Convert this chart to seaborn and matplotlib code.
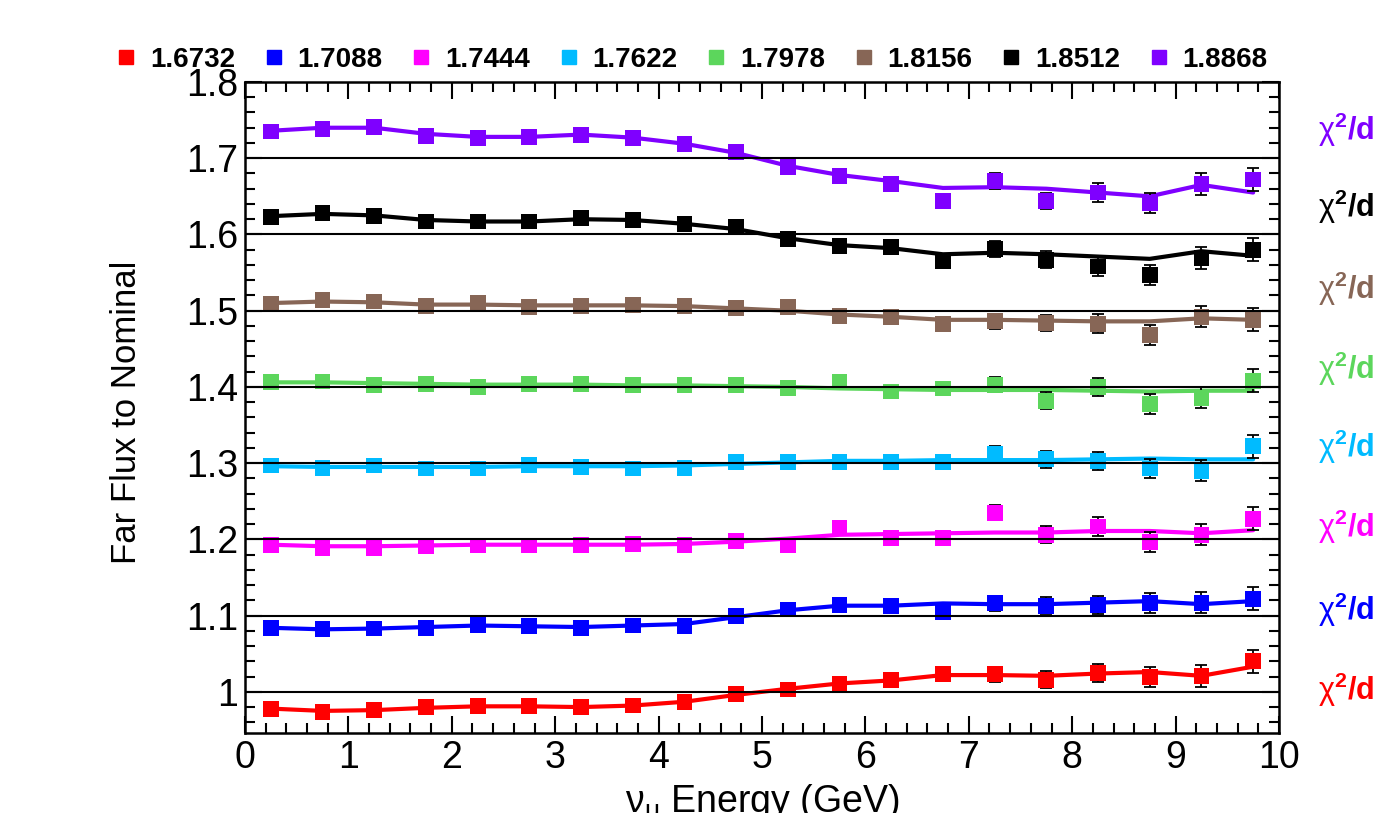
import numpy as np
import pandas as pd
import matplotlib
matplotlib.use('Agg')
import matplotlib.pyplot as plt
from matplotlib.lines import Line2D
from matplotlib.ticker import MultipleLocator
import seaborn as sns

# bin centres (GeV)
energy = [0.25, 0.75, 1.25, 1.75, 2.25, 2.75, 3.25, 3.75, 4.25, 4.75,
          5.25, 5.75, 6.25, 6.75, 7.25, 7.75, 8.25, 8.75, 9.25, 9.75]

labels = ['1.6732', '1.7088', '1.7444', '1.7622', '1.7978', '1.8156', '1.8512', '1.8868']
colors = ['#ff0000', '#0000ff', '#ff00ff', '#00bbff', '#5cd65c', '#876656', '#000000', '#7f00ff']

# ratio points (each series offset by 0.1 on the plot)
pts_16732 = [0.978, 0.974, 0.976, 0.980, 0.981, 0.981, 0.980, 0.982, 0.987, 0.997,
             1.003, 1.011, 1.015, 1.023, 1.023, 1.016, 1.025, 1.019, 1.021, 1.040]
pts_17088 = [1.084, 1.082, 1.083, 1.084, 1.088, 1.086, 1.084, 1.087, 1.086, 1.099,
             1.108, 1.114, 1.113, 1.105, 1.116, 1.113, 1.114, 1.116, 1.117, 1.122]
pts_17444 = [1.193, 1.189, 1.189, 1.191, 1.192, 1.192, 1.193, 1.194, 1.193, 1.198,
             1.193, 1.215, 1.202, 1.202, 1.235, 1.206, 1.217, 1.197, 1.206, 1.227]
pts_17622 = [1.297, 1.294, 1.297, 1.293, 1.293, 1.298, 1.295, 1.293, 1.294, 1.302,
             1.302, 1.301, 1.302, 1.302, 1.312, 1.305, 1.303, 1.293, 1.290, 1.322]
pts_17978 = [1.406, 1.407, 1.403, 1.404, 1.400, 1.404, 1.404, 1.402, 1.402, 1.402,
             1.399, 1.407, 1.394, 1.398, 1.403, 1.382, 1.400, 1.378, 1.386, 1.408]
pts_18156 = [1.509, 1.514, 1.512, 1.506, 1.510, 1.505, 1.506, 1.508, 1.506, 1.503,
             1.505, 1.493, 1.492, 1.483, 1.486, 1.484, 1.483, 1.468, 1.492, 1.488]
pts_18512 = [1.623, 1.628, 1.624, 1.617, 1.617, 1.617, 1.622, 1.619, 1.614, 1.610,
             1.594, 1.585, 1.584, 1.565, 1.581, 1.567, 1.558, 1.547, 1.569, 1.580]
pts_18868 = [1.735, 1.738, 1.741, 1.729, 1.727, 1.728, 1.731, 1.727, 1.719, 1.708,
             1.689, 1.677, 1.666, 1.644, 1.670, 1.644, 1.655, 1.641, 1.666, 1.672]

# fitted curves
fit_16732 = [0.978, 0.975, 0.976, 0.979, 0.981, 0.981, 0.980, 0.982, 0.987, 0.996,
             1.004, 1.011, 1.015, 1.022, 1.022, 1.021, 1.024, 1.026, 1.021, 1.033]
fit_17088 = [1.084, 1.082, 1.083, 1.085, 1.087, 1.086, 1.085, 1.087, 1.089, 1.098,
             1.107, 1.113, 1.113, 1.116, 1.115, 1.115, 1.117, 1.119, 1.115, 1.119]
fit_17444 = [1.193, 1.191, 1.191, 1.192, 1.193, 1.193, 1.193, 1.193, 1.194, 1.197,
             1.201, 1.206, 1.207, 1.208, 1.209, 1.209, 1.211, 1.211, 1.208, 1.212]
fit_17622 = [1.296, 1.295, 1.295, 1.295, 1.295, 1.296, 1.296, 1.296, 1.297, 1.299,
             1.301, 1.303, 1.303, 1.304, 1.304, 1.304, 1.305, 1.306, 1.305, 1.305]
fit_17978 = [1.406, 1.406, 1.405, 1.404, 1.403, 1.403, 1.403, 1.402, 1.402, 1.401,
             1.400, 1.398, 1.397, 1.396, 1.396, 1.396, 1.395, 1.394, 1.395, 1.395]
fit_18156 = [1.510, 1.512, 1.511, 1.508, 1.508, 1.507, 1.507, 1.507, 1.506, 1.503,
             1.500, 1.495, 1.492, 1.488, 1.488, 1.487, 1.486, 1.486, 1.490, 1.488]
fit_18512 = [1.624, 1.627, 1.625, 1.619, 1.617, 1.617, 1.620, 1.619, 1.614, 1.607,
             1.595, 1.586, 1.582, 1.574, 1.576, 1.574, 1.571, 1.568, 1.578, 1.572]
fit_18868 = [1.736, 1.740, 1.740, 1.732, 1.728, 1.728, 1.731, 1.727, 1.719, 1.707,
             1.690, 1.678, 1.670, 1.661, 1.662, 1.660, 1.655, 1.650, 1.665, 1.655]

# statistical error per bin
stat_err = [0.002, 0.002, 0.002, 0.002, 0.002, 0.002, 0.002, 0.003, 0.003, 0.003,
            0.004, 0.005, 0.006, 0.008, 0.010, 0.011, 0.012, 0.013, 0.014, 0.015]

ref_lines = [1.0, 1.1, 1.2, 1.3, 1.4, 1.5, 1.6, 1.7]
chi_y = [690, 610, 527, 447, 369, 289, 207, 130]  # pixel rows of right-side labels

pts_all = [pts_16732, pts_17088, pts_17444, pts_17622, pts_17978, pts_18156, pts_18512, pts_18868]
fit_all = [fit_16732, fit_17088, fit_17444, fit_17622, fit_17978, fit_18156, fit_18512, fit_18868]

rows = []
for lab, p, f in zip(labels, pts_all, fit_all):
    for e, pv, fv, er in zip(energy, p, f, stat_err):
        rows.append({'energy': e, 'ratio': pv, 'fit': fv, 'err': er, 'sample': lab})
df = pd.DataFrame(rows)

sns.set_style('ticks')
plt.rcParams['font.family'] = ['Liberation Sans', 'DejaVu Sans']
plt.rcParams['mathtext.fontset'] = 'custom'
plt.rcParams['mathtext.rm'] = 'Liberation Sans'
plt.rcParams['mathtext.bf'] = 'Liberation Sans:bold'
plt.rcParams['mathtext.it'] = 'Liberation Sans:italic'
for k in ['text.color', 'axes.labelcolor', 'xtick.color', 'ytick.color', 'axes.edgecolor']:
    plt.rcParams[k] = 'black'

W, H = 1373, 813
fig = plt.figure(figsize=(W / 100, H / 100), dpi=100)
ax = fig.add_axes([245 / W, 1 - 733 / H, (1279 - 245) / W, (733 - 82) / H])

pal = dict(zip(labels, colors))
sns.lineplot(data=df, x='energy', y='fit', hue='sample', palette=pal, ax=ax,
             linewidth=3, legend=False, zorder=2)
for lab in labels:
    sub = df[df['sample'] == lab]
    ax.errorbar(sub['energy'], sub['ratio'], yerr=sub['err'], fmt='none',
                ecolor='black', elinewidth=1.3, capsize=4, capthick=1.3, zorder=3)
sns.scatterplot(data=df, x='energy', y='ratio', hue='sample', palette=pal, ax=ax,
                marker='s', s=130, linewidth=0, legend=False, zorder=4)

for yl in ref_lines:
    ax.axhline(yl, color='black', linewidth=1.5, zorder=5)

ax.set_xlim(0, 10)
ax.set_ylim(0.946, 1.8)
ax.xaxis.set_major_locator(MultipleLocator(1))
ax.xaxis.set_minor_locator(MultipleLocator(0.2))
ax.yaxis.set_major_locator(MultipleLocator(0.1))
ax.yaxis.set_minor_locator(MultipleLocator(0.02))
ax.set_yticks(ref_lines + [1.8])
ax.set_yticklabels(['1', '1.1', '1.2', '1.3', '1.4', '1.5', '1.6', '1.7', '1.8'])
ax.tick_params(which='both', direction='in', top=True, right=True, width=1.5,
               labelsize=27, pad=5, colors='black')
ax.tick_params(which='major', length=12)
ax.tick_params(which='minor', length=7)
for sp in ax.spines.values():
    sp.set_linewidth(1.8)
    sp.set_color('black')
ax.set_xlabel('')
ax.set_ylabel('')

fig.text(127 / W, 1 - 412 / H, 'Far Flux to Nominal', rotation=90,
         ha='center', va='center', fontsize=25, color='black')
fig.text(762 / W, 1 - 783 / H, r'$\mathrm{\nu_{\mu}}$ Energy (GeV)', ha='center', va='top',
         fontsize=27, color='black')

handles = [Line2D([], [], marker='s', linestyle='none', color=c, markersize=9.5)
           for c in colors]
leg = fig.legend(handles, labels, loc='center', bbox_to_anchor=(692 / W, 1 - 60 / H),
                 ncol=8, frameon=False, handlelength=0.7, handletextpad=0.5,
                 columnspacing=1.05, prop={'weight': 'bold', 'size': 20})
for t in leg.get_texts():
    t.set_color('black')

for c, yp in zip(colors, chi_y):
    fig.text(1318 / W, 1 - yp / H, r'$\mathrm{\chi}^{\mathbf{2}}$/dof = 0.00', color=c,
             fontsize=22, fontweight='bold', ha='left', va='center')

fig.savefig('out.png', dpi=100)
